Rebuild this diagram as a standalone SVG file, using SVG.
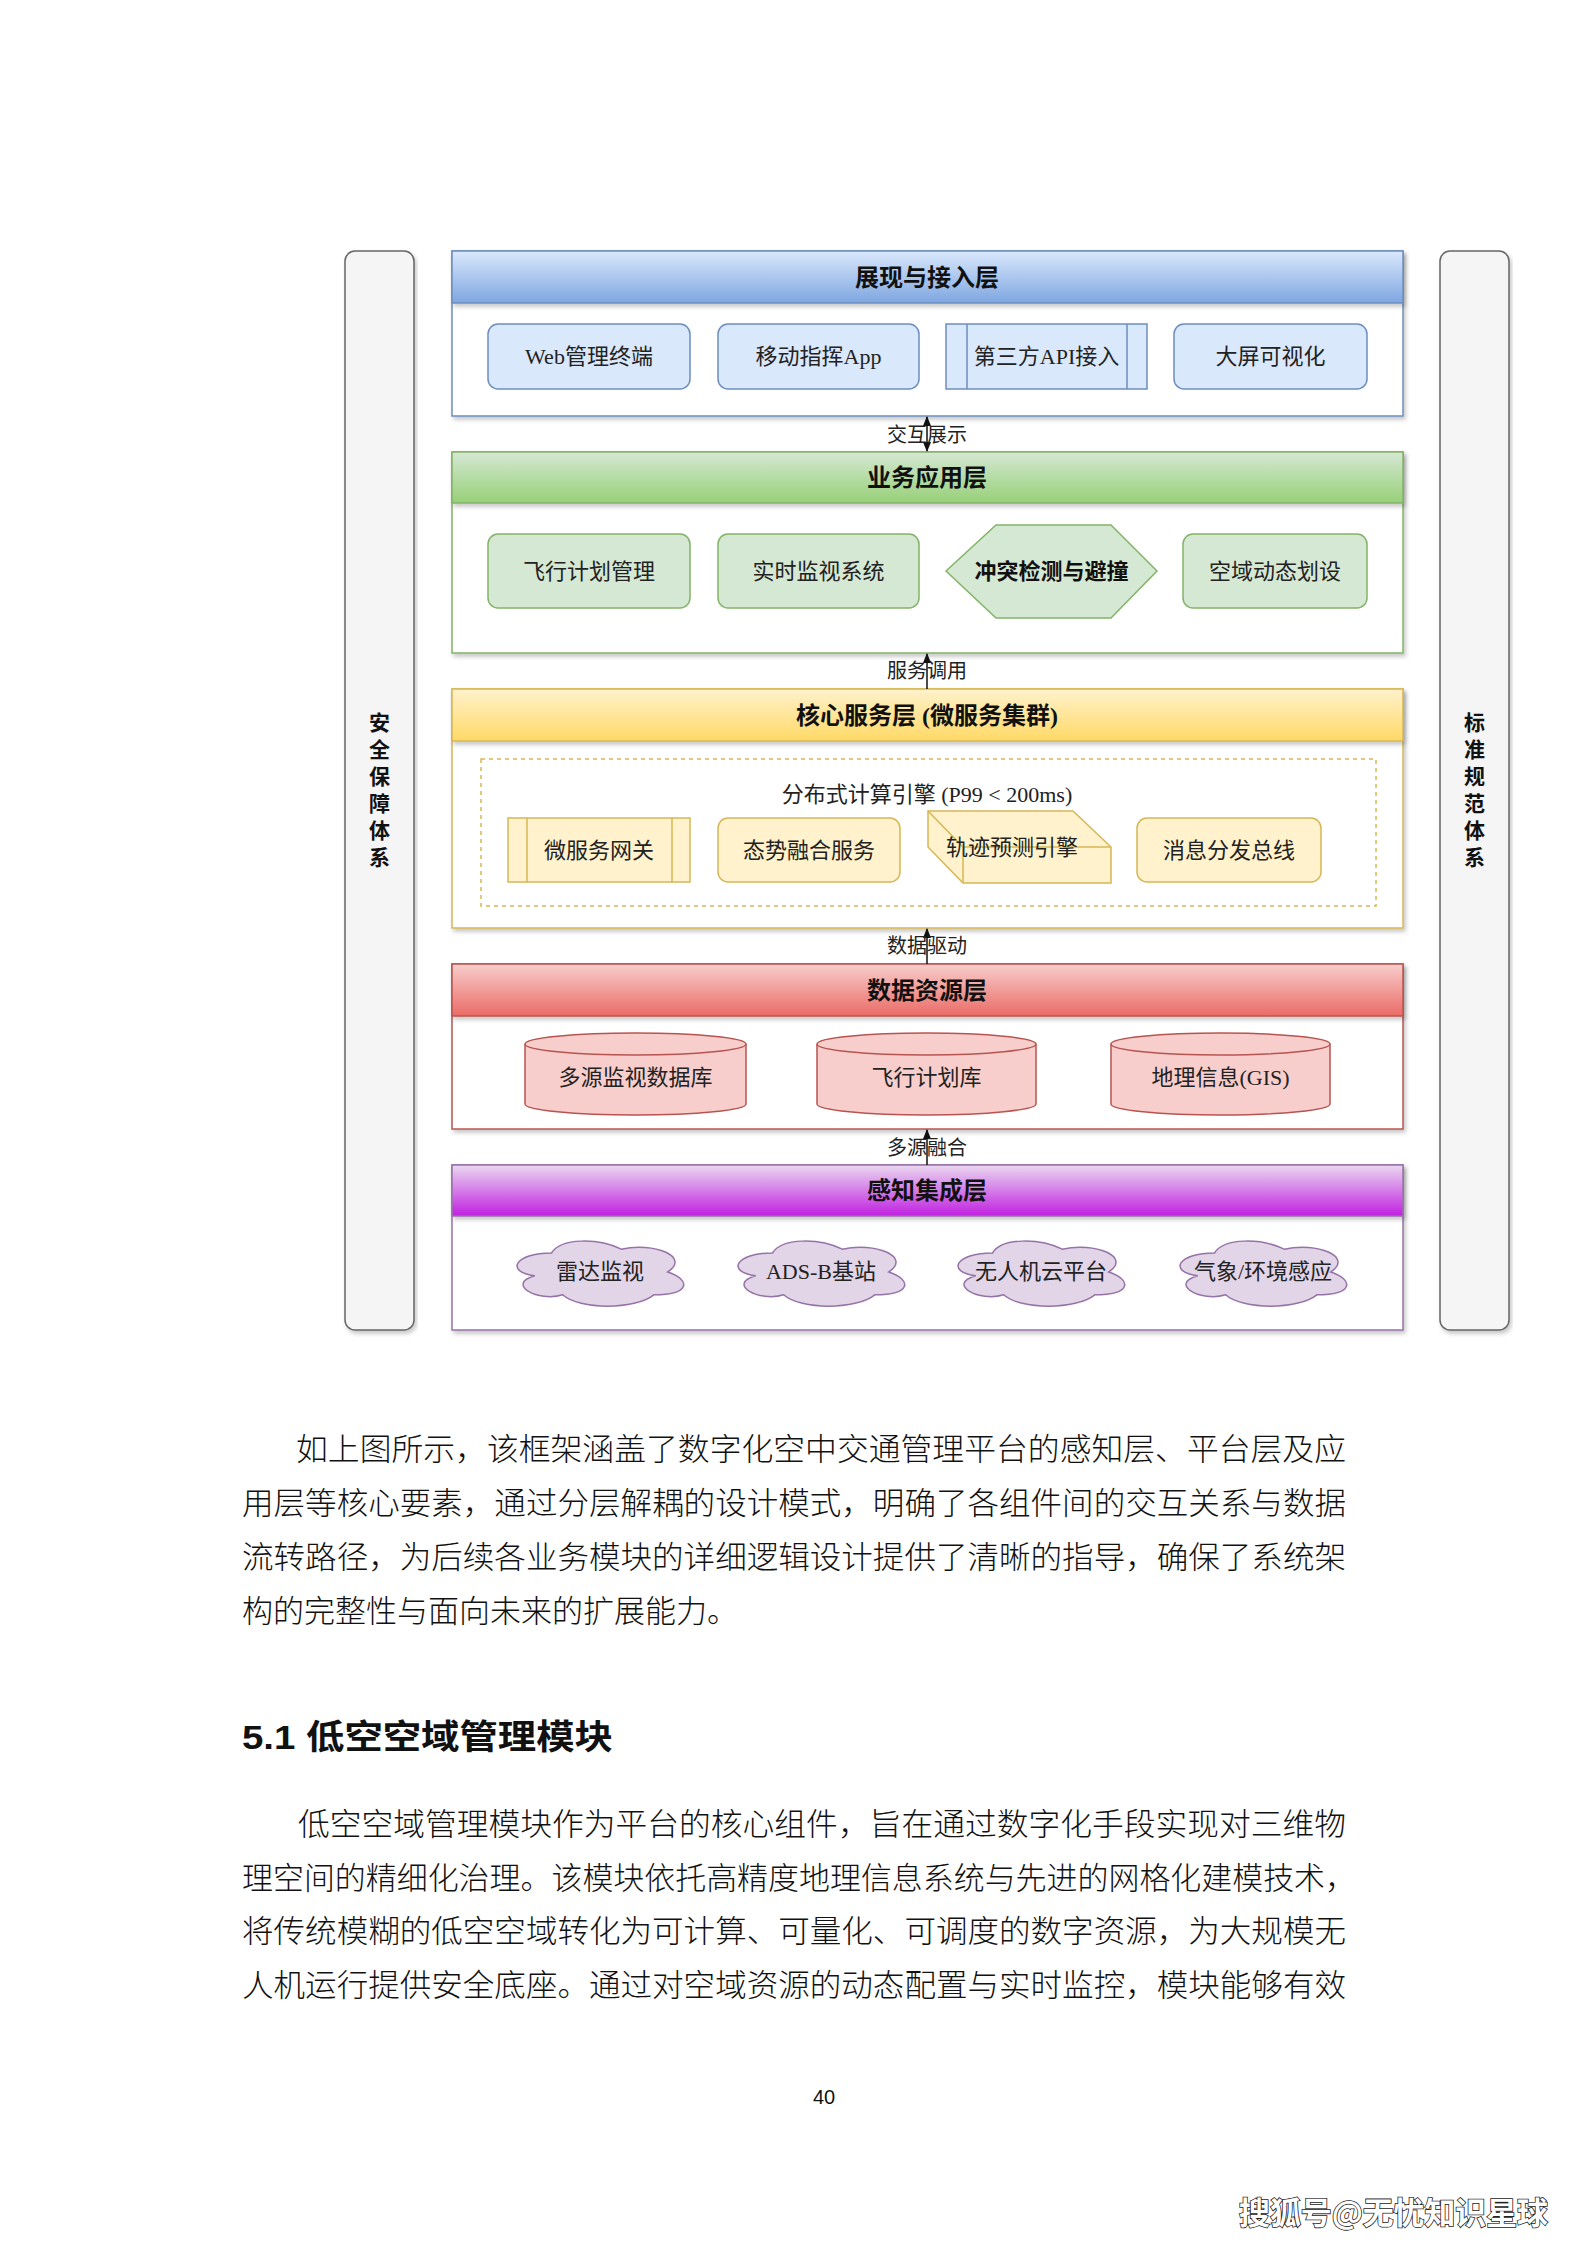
<svg xmlns="http://www.w3.org/2000/svg" xmlns:xlink="http://www.w3.org/1999/xlink" width="1587" height="2245" viewBox="0 0 1587 2245">
<style>
.side{fill:#f5f5f5;stroke:#666666;stroke-width:1.5}
.sidetxt{font-family:"Liberation Serif","Noto Sans CJK SC",serif;font-size:21px;font-weight:bold;fill:#111;text-anchor:middle}
.hdr{font-family:"Liberation Serif","Noto Sans CJK SC",serif;font-size:24px;font-weight:bold;fill:#111;text-anchor:middle}
.nt{font-family:"Liberation Serif","Noto Sans CJK SC",serif;font-size:22px;fill:#222;text-anchor:middle}
.ntb{font-family:"Liberation Serif","Noto Sans CJK SC",serif;font-size:22px;font-weight:bold;fill:#111;text-anchor:middle}
.lbl{font-family:"Liberation Serif","Noto Sans CJK SC",serif;font-size:20px;fill:#222;text-anchor:middle}
.body{font-family:"Noto Sans CJK SC",sans-serif;font-size:31px;font-weight:300;fill:#111}
.head{font-family:"Liberation Sans","Noto Sans CJK SC",sans-serif;font-size:34px;font-weight:bold;fill:#111}
.blueN{fill:#dae8fc;stroke:#6c8ebf;stroke-width:1.5}
.greenN{fill:#d5e8d4;stroke:#82b366;stroke-width:1.5}
.yelN{fill:#fff2cc;stroke:#d6b656;stroke-width:1.5}
.redN{fill:#f8cecc;stroke:#b85450;stroke-width:1.5}
.purN{fill:#e1d5e7;stroke:#9673a6;stroke-width:1.5}
.conn{stroke:#111;stroke-width:1.5;fill:none}
</style>
<defs>
<linearGradient id="gBlue" x1="0" y1="0" x2="0" y2="1"><stop offset="0" stop-color="#dae8fc"/><stop offset="1" stop-color="#7ea6e0"/></linearGradient>
<linearGradient id="gGreen" x1="0" y1="0" x2="0" y2="1"><stop offset="0" stop-color="#d5e8d4"/><stop offset="1" stop-color="#97d077"/></linearGradient>
<linearGradient id="gYel" x1="0" y1="0" x2="0" y2="1"><stop offset="0" stop-color="#fff2cc"/><stop offset="1" stop-color="#ffd966"/></linearGradient>
<linearGradient id="gRed" x1="0" y1="0" x2="0" y2="1"><stop offset="0" stop-color="#f8cecc"/><stop offset="1" stop-color="#ea6b66"/></linearGradient>
<linearGradient id="gPur" x1="0" y1="0" x2="0" y2="1"><stop offset="0" stop-color="#ead8f0"/><stop offset="1" stop-color="#c020e0"/></linearGradient>
<filter id="sh" x="-5%" y="-10%" width="110%" height="130%"><feDropShadow dx="2" dy="3" stdDeviation="2" flood-color="#000" flood-opacity="0.22"/></filter>
<marker id="arr" viewBox="0 0 10 10" refX="9" refY="5" markerWidth="7" markerHeight="7" orient="auto-start-reverse"><path d="M0,1 L10,5 L0,9 Z" fill="#111"/></marker>
<path id="cloud" d="M46.5,19 C9.3,19 0,38 29.76,41.8 C0,50.16 33.48,68.4 57.66,60.8 C74.4,76 130.2,76 148.8,60.8 C186,60.8 186,45.6 162.75,38 C186,22.8 148.8,7.6 116.25,15.2 C93,3.8 55.8,3.8 46.5,19 Z"/>
</defs>
<rect width="1587" height="2245" fill="#ffffff"/>

<!-- side bars -->
<g id="side-left">
<rect class="side" x="345" y="251" width="69" height="1079" rx="10" filter="url(#sh)"/>
<text class="sidetxt" x="379.5" y="730"><tspan x="379.5" y="730">安</tspan><tspan x="379.5" y="757">全</tspan><tspan x="379.5" y="784">保</tspan><tspan x="379.5" y="811">障</tspan><tspan x="379.5" y="838">体</tspan><tspan x="379.5" y="865">系</tspan></text>
</g>
<g id="side-right">
<rect class="side" x="1440" y="251" width="69" height="1079" rx="10" filter="url(#sh)"/>
<text class="sidetxt" x="1474.5" y="730"><tspan x="1474.5" y="730">标</tspan><tspan x="1474.5" y="757">准</tspan><tspan x="1474.5" y="784">规</tspan><tspan x="1474.5" y="811">范</tspan><tspan x="1474.5" y="838">体</tspan><tspan x="1474.5" y="865">系</tspan></text>
</g>

<!-- Layer 1 -->
<g id="layer1">
<rect x="452" y="251" width="951" height="165" fill="#ffffff" stroke="#6c8ebf" stroke-width="1.5" filter="url(#sh)"/>
<rect x="452" y="251" width="951" height="52" fill="url(#gBlue)" stroke="#6c8ebf" stroke-width="1.5" filter="url(#sh)"/>
<text class="hdr" x="927" y="286">展现与接入层</text>
</g>
<g id="n-web"><rect class="blueN" x="488" y="324" width="202" height="65" rx="10"/><text class="nt" x="589" y="364">Web管理终端</text></g>
<g id="n-app"><rect class="blueN" x="718" y="324" width="201" height="65" rx="10"/><text class="nt" x="818.5" y="364">移动指挥App</text></g>
<g id="n-api"><rect class="blueN" x="946" y="324" width="201" height="65"/><line x1="967" y1="324" x2="967" y2="389" stroke="#6c8ebf" stroke-width="1.5"/><line x1="1127" y1="324" x2="1127" y2="389" stroke="#6c8ebf" stroke-width="1.5"/><text class="nt" x="1046.5" y="364">第三方API接入</text></g>
<g id="n-screen"><rect class="blueN" x="1174" y="324" width="193" height="65" rx="10"/><text class="nt" x="1270.5" y="364">大屏可视化</text></g>

<!-- Layer 2 -->
<g id="layer2">
<rect x="452" y="452" width="951" height="201" fill="#ffffff" stroke="#82b366" stroke-width="1.5" filter="url(#sh)"/>
<rect x="452" y="452" width="951" height="51" fill="url(#gGreen)" stroke="#82b366" stroke-width="1.5" filter="url(#sh)"/>
<text class="hdr" x="927" y="486">业务应用层</text>
</g>
<g id="n-plan"><rect class="greenN" x="488" y="534" width="202" height="74" rx="10"/><text class="nt" x="589" y="579">飞行计划管理</text></g>
<g id="n-monitor"><rect class="greenN" x="718" y="534" width="201" height="74" rx="10"/><text class="nt" x="818.5" y="579">实时监视系统</text></g>
<g id="n-conflict"><polygon class="greenN" points="946,571 996,525 1111,525 1157,571 1111,618 996,618"/><text class="ntb" x="1051.5" y="579">冲突检测与避撞</text></g>
<g id="n-airspace"><rect class="greenN" x="1183" y="534" width="184" height="74" rx="10"/><text class="nt" x="1275" y="579">空域动态划设</text></g>

<!-- Layer 3 -->
<g id="layer3">
<rect x="452" y="689" width="951" height="239" fill="#ffffff" stroke="#d6b656" stroke-width="1.5" filter="url(#sh)"/>
<rect x="452" y="689" width="951" height="52" fill="url(#gYel)" stroke="#d6b656" stroke-width="1.5" filter="url(#sh)"/>
<text class="hdr" x="927" y="724">核心服务层 (微服务集群)</text>
</g>
<g id="engine-group">
<rect x="481" y="759" width="895" height="147" fill="none" stroke="#d6b656" stroke-width="1.5" stroke-dasharray="4 4"/>
<text class="nt" x="927" y="802">分布式计算引擎 (P99 &lt; 200ms)</text>
</g>
<g id="n-gateway"><rect class="yelN" x="508" y="818" width="182" height="64"/><line x1="527" y1="818" x2="527" y2="882" stroke="#d6b656" stroke-width="1.5"/><line x1="672" y1="818" x2="672" y2="882" stroke="#d6b656" stroke-width="1.5"/><text class="nt" x="599" y="858">微服务网关</text></g>
<g id="n-fusion"><rect class="yelN" x="718" y="818" width="182" height="64" rx="10"/><text class="nt" x="809" y="858">态势融合服务</text></g>
<g id="n-track"><path class="yelN" d="M928,811 L1073,811 L1111,847 L1111,883 L963,883 L928,847 Z"/><path d="M928,811 L963,847 L1111,847 M963,847 L963,883" fill="none" stroke="#d6b656" stroke-width="1.5"/><text class="nt" x="1012" y="855">轨迹预测引擎</text></g>
<g id="n-bus"><rect class="yelN" x="1137" y="818" width="184" height="64" rx="10"/><text class="nt" x="1229" y="858">消息分发总线</text></g>

<!-- Layer 4 -->
<g id="layer4">
<rect x="452" y="964" width="951" height="165" fill="#ffffff" stroke="#b85450" stroke-width="1.5" filter="url(#sh)"/>
<rect x="452" y="964" width="951" height="52" fill="url(#gRed)" stroke="#b85450" stroke-width="1.5" filter="url(#sh)"/>
<text class="hdr" x="927" y="999">数据资源层</text>
</g>
<g id="n-db1"><path class="redN" d="M525,1044 L525,1104 A110.5,11 0 0 0 746,1104 L746,1044 A110.5,11 0 0 0 525,1044 Z"/><path d="M525,1044 A110.5,11 0 0 0 746,1044" fill="none" stroke="#b85450" stroke-width="1.5"/><text class="nt" x="635.5" y="1085">多源监视数据库</text></g>
<g id="n-db2"><path class="redN" d="M817,1044 L817,1104 A109.5,11 0 0 0 1036,1104 L1036,1044 A109.5,11 0 0 0 817,1044 Z"/><path d="M817,1044 A109.5,11 0 0 0 1036,1044" fill="none" stroke="#b85450" stroke-width="1.5"/><text class="nt" x="926.5" y="1085">飞行计划库</text></g>
<g id="n-db3"><path class="redN" d="M1111,1044 L1111,1104 A109.5,11 0 0 0 1330,1104 L1330,1044 A109.5,11 0 0 0 1111,1044 Z"/><path d="M1111,1044 A109.5,11 0 0 0 1330,1044" fill="none" stroke="#b85450" stroke-width="1.5"/><text class="nt" x="1220.5" y="1085">地理信息(GIS)</text></g>

<!-- Layer 5 -->
<g id="layer5">
<rect x="452" y="1165" width="951" height="165" fill="#ffffff" stroke="#9673a6" stroke-width="1.5" filter="url(#sh)"/>
<rect x="452" y="1165" width="951" height="51" fill="url(#gPur)" stroke="#9673a6" stroke-width="1.5" filter="url(#sh)"/>
<text class="hdr" x="927" y="1199">感知集成层</text>
</g>
<g id="n-radar"><use xlink:href="#cloud" href="#cloud" class="purN" x="505" y="1234"/><text class="nt" x="600" y="1279">雷达监视</text></g>
<g id="n-adsb"><use xlink:href="#cloud" href="#cloud" class="purN" x="726" y="1234"/><text class="nt" x="821" y="1279">ADS-B基站</text></g>
<g id="n-uav"><use xlink:href="#cloud" href="#cloud" class="purN" x="946" y="1234"/><text class="nt" x="1041" y="1279">无人机云平台</text></g>
<g id="n-weather"><use xlink:href="#cloud" href="#cloud" class="purN" x="1168" y="1234"/><text class="nt" x="1263" y="1279">气象/环境感应</text></g>

<!-- connectors -->
<g id="connectors">
<line class="conn" x1="927" y1="451" x2="927" y2="417" marker-start="url(#arr)" marker-end="url(#arr)"/>
<text class="lbl" x="927" y="442">交互展示</text>
<line class="conn" x1="927" y1="689" x2="927" y2="654" marker-end="url(#arr)"/>
<text class="lbl" x="927" y="678">服务调用</text>
<line class="conn" x1="927" y1="964" x2="927" y2="929" marker-end="url(#arr)"/>
<text class="lbl" x="927" y="953">数据驱动</text>
<line class="conn" x1="927" y1="1165" x2="927" y2="1130" marker-end="url(#arr)"/>
<text class="lbl" x="927" y="1155">多源融合</text>
</g>

<!-- page text -->
<g id="page-text">
<text class="body" x="296" y="1460" textLength="1050" lengthAdjust="spacingAndGlyphs">如上图所示，该框架涵盖了数字化空中交通管理平台的感知层、平台层及应</text>
<text class="body" x="242" y="1514" textLength="1104" lengthAdjust="spacingAndGlyphs">用层等核心要素，通过分层解耦的设计模式，明确了各组件间的交互关系与数据</text>
<text class="body" x="242" y="1568" textLength="1104" lengthAdjust="spacingAndGlyphs">流转路径，为后续各业务模块的详细逻辑设计提供了清晰的指导，确保了系统架</text>
<text class="body" x="242" y="1622">构的完整性与面向未来的扩展能力。</text>
<text class="head" x="242" y="1749" textLength="371" lengthAdjust="spacingAndGlyphs">5.1  低空空域管理模块</text>
<text class="body" x="298" y="1835" textLength="1048" lengthAdjust="spacingAndGlyphs">低空空域管理模块作为平台的核心组件，旨在通过数字化手段实现对三维物</text>
<text class="body" x="242" y="1889" textLength="1114" lengthAdjust="spacingAndGlyphs">理空间的精细化治理。该模块依托高精度地理信息系统与先进的网格化建模技术，</text>
<text class="body" x="242" y="1942" textLength="1104" lengthAdjust="spacingAndGlyphs">将传统模糊的低空空域转化为可计算、可量化、可调度的数字资源，为大规模无</text>
<text class="body" x="242" y="1996" textLength="1104" lengthAdjust="spacingAndGlyphs">人机运行提供安全底座。通过对空域资源的动态配置与实时监控，模块能够有效</text>
<text x="824" y="2104" font-family="Liberation Sans, sans-serif" font-size="20" fill="#111" text-anchor="middle">40</text>
<text x="1239" y="2224" font-family="Noto Sans CJK SC, sans-serif" font-size="31" font-weight="bold" fill="#ffffff" stroke="#222" stroke-width="1.6" paint-order="stroke" textLength="309" lengthAdjust="spacingAndGlyphs">搜狐号@无忧知识星球</text>
</g>
</svg>
